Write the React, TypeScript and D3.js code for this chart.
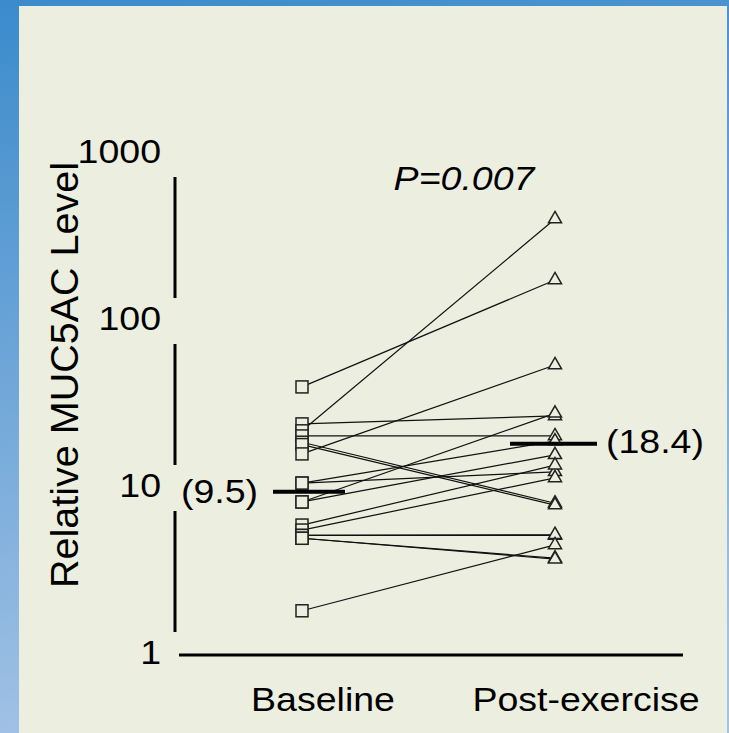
import React from "react";
import * as d3 from "d3";

// Group labels along the x axis
const categories = ["Baseline", "Post-exercise"];

// Paired MUC5AC levels per subject (baseline -> post-exercise)
const baselineValues = [40.3, 24.2, 22.0, 20.5, 18.8, 18.2, 16.0, 10.7, 10.7, 8.25, 8.25, 6.0, 5.6, 5.2, 5.2, 5.0, 5.0, 1.84];
const postValues = [176, 27.0, 408, 20.5, 8.1, 7.9, 54.5, 19.1, 12.5, 28.0, 15.8, 13.7, 11.5, 5.2, 5.25, 3.8, 3.75, 4.56];

// Group mean values shown as bars with labels
const groupMeans = [9.5, 18.4];
const meanLabels = ["(9.5)", "(18.4)"];

// Log axis ticks
const yTicks = [1, 10, 100, 1000];
const yTickLabels = ["1", "10", "100", "1000"];

const yTitle = "Relative MUC5AC Level";
const pLabel = "P=0.007";

const W = 729;
const H = 733;
const PANEL = "#ECEFDF";
const INK = "#000";
const MARK = "#222";
const FONT = "'Liberation Sans', Arial, Helvetica, sans-serif";
const FS = 33.5;
const SX = 1.12;

export default function App() {
  const y = d3.scaleLog().domain([1, 1000]).range([655, 154]);
  const x = d3.scalePoint<string>().domain(categories).range([302, 555]);
  const xLabel = d3.scalePoint<string>().domain(categories).range([323, 586]);

  const pairs = baselineValues.map((b, i) => ({ b, p: postValues[i] }));
  const line = d3.line<[number, number]>().x((d) => d[0]).y((d) => d[1]);

  const xb = x(categories[0])!;
  const xp = x(categories[1])!;

  // y axis drawn as segments interrupted around each tick label
  const gap = 23;
  const axisSegs = d3.pairs(yTicks).map(([lo, hi]) => [y(lo) - gap, y(hi) + gap]);

  const sq = 12;
  const tri = d3.symbol().type(d3.symbolTriangle).size(74)();

  // mean bar extents relative to each group position
  const barExt = [
    [-29, 43],
    [-45, 42],
  ];

  const stretched = (tx: number, ty: number) => `translate(${tx},${ty}) scale(${SX},1)`;

  return (
    <svg
      width={W}
      height={H}
      style={{ position: "absolute", left: 0, top: 0, display: "block" }}
      fontFamily={FONT}
    >
      <defs>
        <linearGradient id="frame" x1="0" y1="0" x2="0.15" y2="1">
          <stop offset="0" stopColor="#3B8BCB" />
          <stop offset="1" stopColor="#A2C2E5" />
        </linearGradient>
      </defs>
      <rect x={0} y={0} width={W} height={H} fill="url(#frame)" />
      <rect x={19} y={6} width={708} height={H - 6} fill={PANEL} />

      {/* y axis */}
      {axisSegs.map(([a, b], i) => (
        <line key={i} x1={175} x2={175} y1={a} y2={b} stroke={INK} strokeWidth={3} />
      ))}
      {yTicks.map((t, i) => (
        <text
          key={t}
          transform={stretched(161, y(t) + 9)}
          textAnchor="end"
          fontSize={FS}
          fill={INK}
        >
          {yTickLabels[i]}
        </text>
      ))}

      {/* x axis */}
      <line x1={179} x2={683} y1={y(1)} y2={y(1)} stroke={INK} strokeWidth={3} />
      {categories.map((c) => (
        <text
          key={c}
          transform={stretched(xLabel(c)!, 711)}
          textAnchor="middle"
          fontSize={FS}
          fill={INK}
        >
          {c}
        </text>
      ))}

      {/* y axis title */}
      <text
        transform="translate(78,375) rotate(-90)"
        textAnchor="middle"
        fontSize={39.5}
        fill={INK}
      >
        {yTitle}
      </text>

      {/* significance */}
      <text transform={stretched(464, 190)} textAnchor="middle" fontSize={FS} fontStyle="italic" fill={INK}>
        {pLabel}
      </text>

      {/* subject lines */}
      {pairs.map((d, i) => (
        <path
          key={i}
          d={line([
            [xb, y(d.b)],
            [xp, y(d.p)],
          ])!}
          stroke="#111"
          strokeWidth={1.2}
          fill="none"
        />
      ))}

      {/* markers */}
      {pairs.map((d, i) => (
        <rect
          key={"s" + i}
          x={xb - sq / 2}
          y={y(d.b) - sq / 2}
          width={sq}
          height={sq}
          fill={PANEL}
          stroke={MARK}
          strokeWidth={1.5}
        />
      ))}
      {pairs.map((d, i) => (
        <path
          key={"t" + i}
          d={tri!}
          transform={`translate(${xp},${y(d.p)})`}
          fill={PANEL}
          stroke={MARK}
          strokeWidth={1.5}
        />
      ))}

      {/* group means */}
      {groupMeans.map((m, i) => {
        const cx = x(categories[i])!;
        return (
          <line
            key={"m" + i}
            x1={cx + barExt[i][0]}
            x2={cx + barExt[i][1]}
            y1={y(m)}
            y2={y(m)}
            stroke={INK}
            strokeWidth={4}
          />
        );
      })}
      <text transform={stretched(258, y(groupMeans[0]) + 11)} textAnchor="end" fontSize={FS} fill={INK}>
        {meanLabels[0]}
      </text>
      <text transform={stretched(606, y(groupMeans[1]) + 9)} textAnchor="start" fontSize={FS} fill={INK}>
        {meanLabels[1]}
      </text>
    </svg>
  );
}
